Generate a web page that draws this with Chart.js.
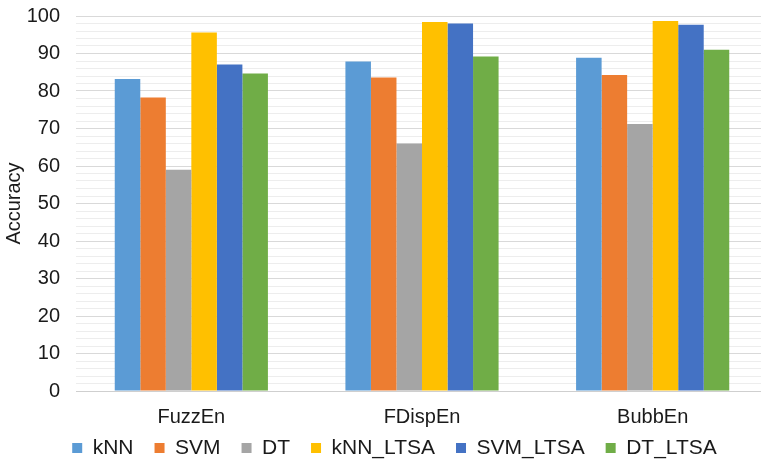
<!DOCTYPE html>
<html>
<head>
<meta charset="utf-8">
<script src="https://cdn.jsdelivr.net/npm/chart.js@4.4.1/dist/chart.umd.min.js"></script>
<style>
  html, body { margin: 0; padding: 0; background: #ffffff; overflow: hidden; }
  #wrap { width: 761px; height: 461px; overflow: hidden; position: relative; }
  canvas { display: block; position: absolute; left: 0; top: -12px; }
</style>
</head>
<body>
<div id="wrap"><canvas id="chart" width="770" height="507"></canvas></div>
<script>
// Classification accuracy per entropy feature
const categories = ['FuzzEn', 'FDispEn', 'BubbEn'];
const seriesNames = ['kNN', 'SVM', 'DT', 'kNN_LTSA', 'SVM_LTSA', 'DT_LTSA'];
const kNN      = [83.2, 87.9, 88.9];
const SVM      = [78.3, 83.6, 84.3];
const DT       = [59.0, 66.0, 71.2];
const kNN_LTSA = [95.6, 98.4, 98.7];
const SVM_LTSA = [87.1, 98.0, 97.7];
const DT_LTSA  = [84.7, 89.2, 91.0];
const yTicks = [0, 10, 20, 30, 40, 50, 60, 70, 80, 90, 100];

const seriesValues = [kNN, SVM, DT, kNN_LTSA, SVM_LTSA, DT_LTSA];
const colors = ['#5B9BD5', '#ED7D31', '#A5A5A5', '#FFC000', '#4472C4', '#70AD47'];

const FONT = '"Liberation Sans", Arial, Helvetica, sans-serif';
const INK = '#1a1a1a';

// Pull the legend row up, close under the category labels
const legendLift = {
  id: 'legendLift',
  afterLayout(chart) {
    const lg = chart.legend;
    if (lg) { lg.top -= 26.5; lg.bottom -= 26.5; }
  }
};

const chart = new Chart(document.getElementById('chart'), {
  type: 'bar',
  data: {
    labels: categories,
    datasets: seriesNames.map((name, i) => ({
      label: name,
      data: seriesValues[i],
      backgroundColor: colors[i],
      borderWidth: 0,
      categoryPercentage: 0.664,
      barPercentage: 1.0
    }))
  },
  plugins: [legendLift],
  options: {
    responsive: false,
    animation: false,
    layout: { padding: { top: 4, left: 21, right: 2, bottom: 0 } },
    plugins: {
      tooltip: { enabled: false },
      legend: {
        position: 'bottom',
        labels: {
          font: { family: FONT, size: 21 },
          color: INK,
          boxWidth: 10,
          boxHeight: 10,
          padding: 21
        }
      }
    },
    scales: {
      x: {
        grid: { display: false, drawTicks: false },
        border: { display: false },
        ticks: {
          font: { family: FONT, size: 20 },
          color: INK,
          padding: 14
        }
      },
      y: {
        min: 0,
        max: 100,
        border: { display: false },
        grid: {
          drawTicks: false,
          color: ctx => {
            const v = ctx.tick.value;
            if (v === 0) return '#cfcfcf';
            return yTicks.includes(v) ? '#d9d9d9' : '#ededed';
          },
          lineWidth: 1
        },
        ticks: {
          stepSize: 2,
          autoSkip: false,
          font: { family: FONT, size: 20 },
          color: INK,
          padding: 16,
          callback: v => (yTicks.includes(v) ? String(v) : '')
        },
        title: {
          display: true,
          text: 'Accuracy',
          font: { family: FONT, size: 20 },
          color: INK,
          padding: { top: -19, bottom: 0 }
        },
        afterFit: scale => { scale.width = 55; }
      }
    }
  }
});
</script>
</body>
</html>
